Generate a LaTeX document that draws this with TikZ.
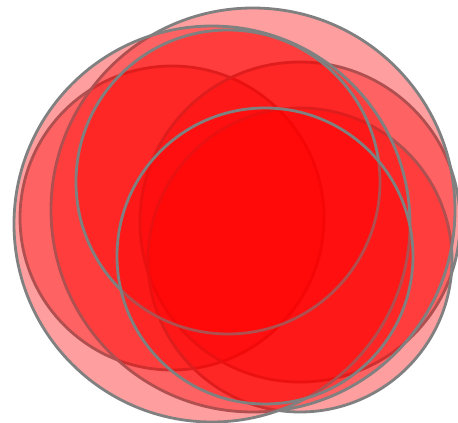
\documentclass[tikz,border=0pt]{standalone}
\begin{document}
\begin{tikzpicture}[x=0.02cm, y=0.02cm,
    petal/.style={fill=red, fill opacity=0.38, draw=gray, draw opacity=1, line width=1.6pt}]
    \useasboundingbox (0,0) rectangle (458,-423);
    % inner ring
    \filldraw[petal] (172,-218) circle (152); % upper left
    \filldraw[petal] (300,-222) circle (160); % upper right
    \filldraw[petal] (300,-260) circle (152); % lower right
    % large back petals
    \filldraw[petal] (253,-210) circle (202); % right
    \filldraw[petal] (212,-224) circle (198); % left
    % top petal
    \filldraw[petal] (228,-182) circle (152);
    % front petal
    \filldraw[petal] (265,-256) circle (148);
\end{tikzpicture}
\end{document}
